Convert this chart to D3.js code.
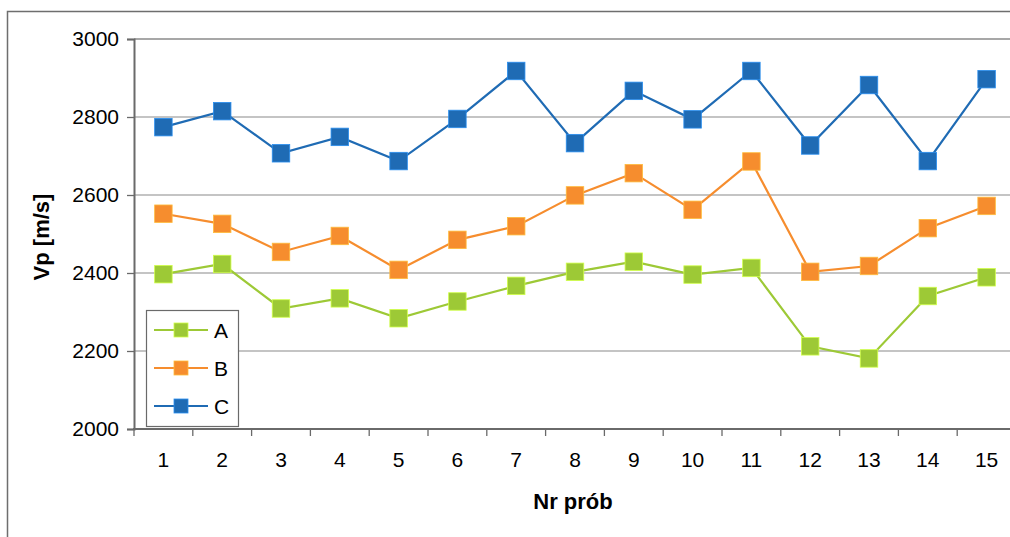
<!DOCTYPE html>
<html>
<head>
<meta charset="utf-8">
<script src="https://cdn.jsdelivr.net/npm/d3@7"></script>
<style>
  html, body { margin: 0; padding: 0; background: #fff; }
  svg { display: block; font-family: "Liberation Sans", Arial, sans-serif; }
</style>
</head>
<body>
<svg id="chart" width="1010" height="537"></svg>
<script>
// Sample numbers and measured P-wave velocities per series
const samples = ["1","2","3","4","5","6","7","8","9","10","11","12","13","14","15"];
const seriesA = [2397, 2423, 2309, 2335, 2284, 2327, 2367, 2403, 2429, 2396, 2413, 2212, 2181, 2341, 2389];
const seriesB = [2552, 2526, 2454, 2495, 2408, 2485, 2520, 2599, 2656, 2562, 2686, 2403, 2418, 2515, 2572];
const seriesC = [2774, 2815, 2707, 2749, 2687, 2795, 2918, 2733, 2867, 2794, 2918, 2727, 2882, 2687, 2897];
const yTicks = [2000, 2200, 2400, 2600, 2800, 3000];
const seriesNames = ["A", "B", "C"];
const seriesColors = ["#9dc936", "#f68d2e", "#1f6bb4"];

const series = [seriesA, seriesB, seriesC].map((vals, i) => ({
  name: seriesNames[i], color: seriesColors[i], values: vals
}));

const svg = d3.select("#chart");
const plotL = 134, plotT = 39, plotB = 429, plotR = 134 + 15 * 58.8;

const x = d3.scaleBand().domain(samples).range([plotL, plotR]).padding(0);
const y = d3.scaleLinear().domain([2000, 3000]).range([plotB, plotT]);

// Outer chart frame
svg.append("rect")
  .attr("x", 7.5).attr("y", 11.5).attr("width", 1020).attr("height", 540)
  .attr("fill", "none").attr("stroke", "#6e6e6e").attr("stroke-width", 1.5);

// Horizontal gridlines
svg.append("g").selectAll("line")
  .data(yTicks.filter(t => t > 2000))
  .join("line")
  .attr("x1", plotL).attr("x2", plotR)
  .attr("y1", d => y(d)).attr("y2", d => y(d))
  .attr("stroke", "#8a8a8a").attr("stroke-width", d => d === 3000 ? 1.6 : 1.1);

// Y axis
const yAxis = svg.append("g")
  .attr("transform", `translate(${plotL},0)`)
  .call(d3.axisLeft(y).tickValues(yTicks).tickSize(7).tickPadding(8).tickFormat(d3.format("d")));
yAxis.select(".domain").attr("stroke", "#6a6a6a").attr("stroke-width", 2);
yAxis.selectAll(".tick line").attr("stroke", "#6a6a6a").attr("stroke-width", 1.3);
yAxis.selectAll(".tick text").attr("font-size", 21).attr("fill", "#000")
  .attr("font-family", "Liberation Sans, Arial, sans-serif");

// X axis with ticks at band boundaries
const xAxis = svg.append("g")
  .attr("transform", `translate(0,${plotB})`);
xAxis.append("line")
  .attr("x1", plotL - 1).attr("x2", plotR)
  .attr("stroke", "#6a6a6a").attr("stroke-width", 2);
xAxis.selectAll("line.tk")
  .data(samples)
  .join("line").attr("class", "tk")
  .attr("x1", d => x(d)).attr("x2", d => x(d))
  .attr("y1", 0).attr("y2", 7)
  .attr("stroke", "#6a6a6a").attr("stroke-width", 1.3);
xAxis.selectAll("text")
  .data(samples)
  .join("text")
  .attr("x", d => x(d) + x.bandwidth() / 2)
  .attr("y", 38)
  .attr("text-anchor", "middle")
  .attr("font-size", 21).attr("fill", "#000")
  .text(d => d);

// Axis titles
svg.append("text")
  .attr("transform", `translate(48.5,237) rotate(-90)`)
  .attr("text-anchor", "middle")
  .attr("font-size", 22).attr("font-weight", "bold")
  .text("Vp [m/s]");
svg.append("text")
  .attr("x", (plotL + plotR) / 2 - 2).attr("y", 509)
  .attr("text-anchor", "middle")
  .attr("font-size", 22).attr("font-weight", "bold")
  .text("Nr prób");

// Series lines and square markers
const line = d3.line()
  .x((d, i) => x(samples[i]) + x.bandwidth() / 2)
  .y(d => y(d));
const ms = 17.5;
series.forEach(s => {
  const g = svg.append("g");
  g.append("path")
    .attr("d", line(s.values))
    .attr("fill", "none").attr("stroke", s.color).attr("stroke-width", 2.2);
  g.selectAll("rect")
    .data(s.values)
    .join("rect")
    .attr("x", (d, i) => x(samples[i]) + x.bandwidth() / 2 - ms / 2)
    .attr("y", d => y(d) - ms / 2)
    .attr("width", ms).attr("height", ms)
    .attr("fill", s.color)
    .attr("stroke", d3.color(s.color).brighter(0.8)).attr("stroke-width", 0.8);
});

// Legend
const lg = svg.append("g");
lg.append("rect")
  .attr("x", 146.5).attr("y", 310.5).attr("width", 92).attr("height", 116)
  .attr("fill", "#fff").attr("stroke", "#6a6a6a").attr("stroke-width", 1.2);
series.forEach((s, i) => {
  const cy = 330 + i * 38;
  lg.append("line")
    .attr("x1", 154).attr("x2", 208).attr("y1", cy).attr("y2", cy)
    .attr("stroke", s.color).attr("stroke-width", 2.2);
  lg.append("rect")
    .attr("x", 174).attr("y", cy - 7).attr("width", 14).attr("height", 14)
    .attr("fill", s.color)
    .attr("stroke", d3.color(s.color).brighter(0.8)).attr("stroke-width", 0.8);
  lg.append("text")
    .attr("x", 214).attr("y", cy + 7.5)
    .attr("font-size", 21).attr("fill", "#000")
    .text(s.name);
});
</script>
</body>
</html>
